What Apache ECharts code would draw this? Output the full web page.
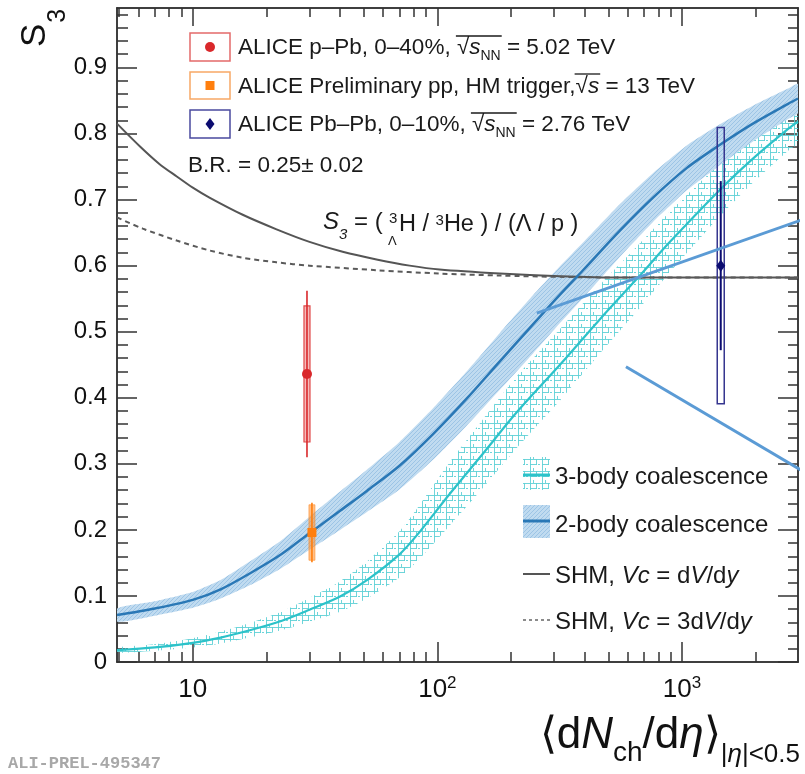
<!DOCTYPE html>
<html><head><meta charset="utf-8">
<script src="https://cdn.jsdelivr.net/npm/echarts@6/dist/echarts.min.js"></script>
<style>html,body{margin:0;padding:0;background:#fff}#c{width:805px;height:774px}</style>
</head><body><div id="c"></div>
<script>
const FONT = '"Liberation Sans", Arial, Helvetica, sans-serif';

// ---------------- data ----------------
const X_MIN = 4.9, X_MAX = 2980, Y_MIN = 0, Y_MAX = 0.99;
const xTickValues = [10, 100, 1000];
const xTickLabels = ['10', '10^2', '10^3'];
const xMinorTicks = [5,6,7,8,9,20,30,40,50,60,70,80,90,200,300,400,500,600,700,800,900,2000];
const yTickValues = [0,0.1,0.2,0.3,0.4,0.5,0.6,0.7,0.8,0.9];
const yTickLabels = ['0','0.1','0.2','0.3','0.4','0.5','0.6','0.7','0.8','0.9'];
const yMinorTicks = [0.02,0.04,0.06,0.08,0.12,0.14,0.16,0.18,0.22,0.24,0.26,0.28,0.32,0.34,0.36,0.38,0.42,0.44,0.46,0.48,0.52,0.54,0.56,0.58,0.62,0.64,0.66,0.68,0.72,0.74,0.76,0.78,0.82,0.84,0.86,0.88,0.92,0.94,0.96,0.98];

const twoBodyX  = [4.9, 7, 10, 13, 17.1, 23, 30, 40, 51.5, 70, 96, 132, 180, 246, 317, 394, 557, 761, 1047, 1430, 1950, 2715, 2980];
const twoBodyY  = [0.071,0.081,0.094,0.110,0.134,0.163,0.195,0.229,0.259,0.297,0.345,0.399,0.455,0.511,0.556,0.593,0.653,0.703,0.748,0.783,0.815,0.845,0.853];
const twoBodyLo = [0.061,0.070,0.082,0.096,0.116,0.142,0.170,0.200,0.227,0.261,0.306,0.358,0.412,0.467,0.513,0.551,0.613,0.666,0.714,0.752,0.788,0.822,0.831];
const twoBodyHi = [0.081,0.092,0.106,0.124,0.152,0.184,0.220,0.258,0.291,0.333,0.384,0.440,0.498,0.555,0.599,0.635,0.693,0.740,0.782,0.814,0.842,0.868,0.875];

const threeBodyX  = [4.9, 7, 10, 13, 17.1, 23, 30, 40, 51.5, 70, 82.5, 112, 154, 211, 317, 462, 654, 893, 1430, 1950, 2715, 2980];
const threeBodyY  = [0.018,0.022,0.029,0.037,0.048,0.062,0.079,0.099,0.124,0.163,0.192,0.254,0.316,0.378,0.450,0.519,0.580,0.636,0.715,0.762,0.807,0.818];
const threeBodyLo = [0.014,0.017,0.022,0.028,0.037,0.048,0.061,0.076,0.096,0.128,0.152,0.206,0.264,0.324,0.396,0.467,0.531,0.590,0.675,0.726,0.774,0.786];
const threeBodyHi = [0.022,0.027,0.036,0.046,0.059,0.076,0.097,0.122,0.152,0.198,0.232,0.302,0.368,0.432,0.504,0.571,0.629,0.682,0.755,0.798,0.840,0.850];

const shmX = [4.9, 6.1, 7.3, 8.6, 10, 11.7, 16, 22, 30, 41, 57, 77, 102, 180, 317, 557, 2980];
const shmY = [0.815,0.780,0.754,0.735,0.718,0.703,0.677,0.655,0.636,0.621,0.609,0.600,0.594,0.588,0.584,0.582,0.582];
const shm3X = [4.9, 6.25, 8.6, 11.7, 16, 22, 30, 57, 102, 180, 317, 557, 2980];
const shm3Y = [0.673,0.656,0.638,0.623,0.612,0.605,0.600,0.593,0.588,0.585,0.583,0.582,0.582];

const pointNames = ['ALICE p–Pb, 0–40%', 'ALICE Preliminary pp, HM trigger', 'ALICE Pb–Pb, 0–10%'];
const pointX    = [29.3, 30.7, 1440];
const pointY    = [0.436, 0.196, 0.600];
const pointStat = [0.126, 0.045, 0.128];
const pointSys  = [0.103, 0.042, 0.209];

const annotLine1X = [255, 3186];
const annotLine1Y = [0.528, 0.671];
const annotLine2X = [590, 3186];
const annotLine2Y = [0.447, 0.287];

// ---------------- patterns ----------------
function pattern2() {
  const c = document.createElement('canvas'); c.width = 4; c.height = 4;
  const g = c.getContext('2d');
  g.fillStyle = '#c0dbf0'; g.fillRect(0,0,4,4);
  g.fillStyle = '#9cc4e5';
  for (let i = 0; i < 4; i++) g.fillRect(i, 3 - i, 1, 1);
  return c;
}
function pattern3() {
  const c = document.createElement('canvas'); c.width = 12; c.height = 12;
  const g = c.getContext('2d');
  g.fillStyle = 'rgba(95,208,214,0.9)';
  g.fillRect(2,0,1,12);
  g.fillRect(0,3,12,1);
  g.fillRect(8,3,1,6);
  g.fillRect(2,8,7,1);
  g.fillRect(10,8,2,1);
  g.fillRect(5,0,1,3);
  return c;
}
const P2 = pattern2(), P3 = pattern3();

// ---------------- axes ----------------
const AX = '#333333';
function xAxisDef(pos, ticks, len, withLabels) {
  return {
    type: 'log', logBase: 10, min: X_MIN, max: X_MAX, position: pos, gridIndex: 0,
    axisLine: {show: true, onZero: false, lineStyle: {color: AX, width: 1.5}},
    axisTick: {show: true, inside: true, length: len, customValues: ticks, lineStyle: {color: AX, width: 1.5}},
    axisLabel: withLabels ? {
      show: true, customValues: xTickValues, margin: 13,
      formatter: v => {
        const idx = xTickValues.findIndex(t => Math.abs(t - v) / t < 1e-6);
        const lab = xTickLabels[idx] || '';
        const parts = lab.split('^');
        return parts.length > 1 ? '{b|' + parts[0] + '}{p|' + parts[1] + '}' : '{b|' + parts[0] + '}';
      },
      rich: {
        b: {fontSize: 26, lineHeight: 30, fontFamily: FONT, color: '#111'},
        p: {fontSize: 17, lineHeight: 20, verticalAlign: 'top', fontFamily: FONT, color: '#111'}
      }
    } : {show: false},
    splitLine: {show: false}, minorTick: {show: false}, minorSplitLine: {show: false}
  };
}
function yAxisDef(pos, ticks, len, withLabels) {
  return {
    type: 'value', min: Y_MIN, max: Y_MAX, position: pos, gridIndex: 0,
    axisLine: {show: true, onZero: false, lineStyle: {color: AX, width: 1.5}},
    axisTick: {show: true, inside: true, length: len, customValues: ticks, lineStyle: {color: AX, width: 1.5}},
    axisLabel: withLabels ? {
      show: true, customValues: yTickValues, margin: 10, fontSize: 24, fontFamily: FONT, color: '#111',
      formatter: v => {
        const idx = yTickValues.findIndex(t => Math.abs(t - v) < 1e-6);
        return idx >= 0 ? yTickLabels[idx] : '';
      }
    } : {show: false},
    splitLine: {show: false}, minorTick: {show: false}, minorSplitLine: {show: false}
  };
}

const xAxes = [
  xAxisDef('bottom', xTickValues, 20, true),
  xAxisDef('bottom', xMinorTicks, 10, false),
  xAxisDef('top', xTickValues, 18, false),
  xAxisDef('top', xMinorTicks, 9, false)
];
xAxes[0].name = '{b|⟨d}{bi|N}{c|ch}{b|/d}{bi|η}{b|⟩}{s|\|}{si|η}{s|\|<0.5}';
xAxes[0].nameLocation = 'end';
xAxes[0].nameGap = 2;
xAxes[0].nameTextStyle = {
  align: 'right', verticalAlign: 'top', padding: [52, 0, 0, 0],
  rich: {
    b:  {fontSize: 44, lineHeight: 50, verticalAlign: 'top', fontFamily: FONT, color: '#111'},
    bi: {fontSize: 44, lineHeight: 50, verticalAlign: 'top', fontStyle: 'italic', fontFamily: FONT, color: '#111'},
    c:  {fontSize: 28, verticalAlign: 'top', padding: [25, 0, 0, 0], fontFamily: FONT, color: '#111'},
    s:  {fontSize: 26, verticalAlign: 'top', padding: [28, 0, 0, 0], fontFamily: FONT, color: '#111'},
    si: {fontSize: 26, verticalAlign: 'top', padding: [28, 0, 0, 0], fontStyle: 'italic', fontFamily: FONT, color: '#111'}
  }
};

const yAxes = [
  yAxisDef('left', yTickValues, 20, true),
  yAxisDef('left', yMinorTicks, 11, false),
  yAxisDef('right', yTickValues, 20, false),
  yAxisDef('right', yMinorTicks, 10, false)
];
yAxes[0].name = '{s|S}{u|3}';
yAxes[0].nameLocation = 'end';
yAxes[0].nameRotate = 90;
yAxes[0].nameGap = -39;
yAxes[0].nameTextStyle = {
  align: 'left', verticalAlign: 'bottom', padding: [0, 0, 46, 0],
  rich: {
    s: {fontSize: 35, lineHeight: 36, verticalAlign: 'top', fontFamily: FONT, color: '#111'},
    u: {fontSize: 25, padding: [28, 0, 0, 1], fontFamily: FONT, color: '#111'}
  }
};

// ---------------- series ----------------
const series = [];
function band(key, xs, lo, hi, fill, z) {
  series.push({
    type: 'custom', name: key, silent: true, z: z, clip: true, encode: {x: 0, y: 1},
    data: xs.map((x, i) => [x, lo[i], hi[i]]),
    renderItem: (params, api) => {
      if (params.dataIndex !== 0) return null;
      const upper = xs.map((x, i) => api.coord([x, hi[i]]));
      const lower = xs.map((x, i) => api.coord([x, lo[i]])).reverse();
      return {type: 'polygon', shape: {points: upper.concat(lower), smooth: 0.2}, style: {fill: fill}};
    }
  });
}
function curve(name, xs, ys, color, width, type, z) {
  series.push({type: 'line', name: name, data: xs.map((x, i) => [x, ys[i]]), symbol: 'none', smooth: 0.3,
    lineStyle: {color: color, width: width, type: type}, silent: true, z: z});
}
band('3-body band', threeBodyX, threeBodyLo, threeBodyHi, {image: P3, repeat: 'repeat'}, 2);
band('2-body band', twoBodyX, twoBodyLo, twoBodyHi, {image: P2, repeat: 'repeat'}, 2);
curve('SHM, Vc = dV/dy', shmX, shmY, '#555555', 2, 'solid', 3);
curve('SHM, Vc = 3dV/dy', shm3X, shm3Y, '#5a5a5a', 2, [5, 4], 3);
curve('3-body coalescence', threeBodyX, threeBodyY, '#2cc2c9', 2.2, 'solid', 4);
curve('2-body coalescence', twoBodyX, twoBodyY, '#2a78b6', 2.5, 'solid', 4);

const pointStyles = [
  {color: '#d9282b', boxW: 6, boxStyle: {fill: 'rgba(225,60,60,0.35)', stroke: '#e04848', lineWidth: 1.2}, statW: 1.6, marker: 'circle'},
  {color: '#ff7f0e', boxW: 6, boxStyle: {fill: 'rgba(255,140,40,0.55)', stroke: 'rgba(255,140,40,0.6)', lineWidth: 1}, statW: 1.6, marker: 'square'},
  {color: '#0b0b70', boxW: 7, boxStyle: {fill: 'rgba(255,255,255,0)', stroke: '#35358f', lineWidth: 1.5}, statW: 2, marker: 'diamond'}
];
pointNames.forEach((nm, i) => {
  const st = pointStyles[i];
  series.push({
    type: 'custom', name: nm, silent: true, z: 10, clip: false,
    encode: {x: 0, y: 1},
    data: [[pointX[i], pointY[i], pointY[i] - pointStat[i], pointY[i] + pointStat[i], pointY[i] - pointSys[i], pointY[i] + pointSys[i]]],
    renderItem: (params, api) => {
      const x = api.value(0);
      const c = api.coord([x, api.value(1)]);
      const s1 = api.coord([x, api.value(2)]), s2 = api.coord([x, api.value(3)]);
      const b1 = api.coord([x, api.value(4)]), b2 = api.coord([x, api.value(5)]);
      const w = st.boxW;
      let marker;
      if (st.marker === 'circle') marker = {type: 'circle', shape: {cx: c[0], cy: c[1], r: 5}, style: {fill: st.color}};
      else if (st.marker === 'square') marker = {type: 'rect', shape: {x: c[0] - 4.5, y: c[1] - 4.5, width: 9, height: 9}, style: {fill: st.color}};
      else marker = {type: 'polygon', shape: {points: [[c[0], c[1] - 6], [c[0] + 4.5, c[1]], [c[0], c[1] + 6], [c[0] - 4.5, c[1]]]}, style: {fill: st.color}};
      return {type: 'group', children: [
        {type: 'rect', shape: {x: c[0] - w / 2, y: b2[1], width: w, height: b1[1] - b2[1]}, style: st.boxStyle},
        {type: 'line', shape: {x1: c[0], y1: s2[1], x2: c[0], y2: s1[1]}, style: {stroke: st.color, lineWidth: st.statW}},
        marker
      ]};
    }
  });
});

[[annotLine1X, annotLine1Y], [annotLine2X, annotLine2Y]].forEach((a, k) => {
  series.push({type: 'line', name: 'annotation' + k, data: a[0].map((x, i) => [x, a[1][i]]), symbol: 'none',
    clip: false, lineStyle: {color: '#5b9bd5', width: 3}, silent: true, z: 12});
});

// ---------------- text / legends ----------------
const T = '#1a1a1a';
const L1 = 22.5;
const r1 = {
  n:   {fontSize: L1, lineHeight: 26, verticalAlign: 'top', fontFamily: FONT, fill: T},
  i:   {fontSize: L1, lineHeight: 26, verticalAlign: 'top', fontStyle: 'italic', fontFamily: FONT, fill: T},
  sub: {fontSize: 14, verticalAlign: 'top', padding: [13, 0, 0, 0], fontFamily: FONT, fill: T}
};
const r2 = {
  n: {fontSize: 24, lineHeight: 28, verticalAlign: 'top', fontFamily: FONT, fill: T},
  i: {fontSize: 24, lineHeight: 28, verticalAlign: 'top', fontStyle: 'italic', fontFamily: FONT, fill: T}
};
function txt(x, y, text, rich) {
  return {type: 'text', x: x, y: y, z: 50, silent: true, style: {text: text, rich: rich, align: 'left', verticalAlign: 'middle'}};
}
// measure text widths to place the radical's overbar
const mctx = document.createElement('canvas').getContext('2d');
function tw(s, size, italic) { mctx.font = (italic ? 'italic ' : '') + size + 'px ' + FONT; return mctx.measureText(s).width; }
function overbar(x0, prefix, hasSub, yTop) {
  const xs = x0 + tw(prefix, L1) - 1;
  const xe = x0 + tw(prefix + '√', L1) + tw('s', L1, true) + (hasSub ? tw('NN', 14) : 0) + 1;
  return {type: 'line', z: 50, shape: {x1: xs, y1: yTop, x2: xe, y2: yTop}, style: {stroke: T, lineWidth: 1.3}};
}
const leg1Y = [50, 88, 127];
const graphics = [
  // legend 1 boxes
  {type: 'rect', shape: {x: 190, y: 33, width: 40, height: 28}, style: {fill: '#fff', stroke: '#e46a6a', lineWidth: 1.5}},
  {type: 'circle', shape: {cx: 210, cy: 47, r: 5}, style: {fill: '#d9282b'}},
  {type: 'rect', shape: {x: 190, y: 72, width: 40, height: 27}, style: {fill: '#fff', stroke: '#f7a865', lineWidth: 1.5}},
  {type: 'rect', shape: {x: 205.5, y: 81, width: 9, height: 9}, style: {fill: '#ff7f0e'}},
  {type: 'rect', shape: {x: 190, y: 110, width: 40, height: 28}, style: {fill: '#fff', stroke: '#4a4a9e', lineWidth: 1.5}},
  {type: 'polygon', shape: {points: [[210, 118], [214.5, 124], [210, 130], [205.5, 124]]}, style: {fill: '#0b0b70'}},
  txt(238, leg1Y[0], '{n|ALICE p–Pb, 0–40%, √}{i|s}{sub|NN}{n| = 5.02 TeV}', r1),
  txt(238, leg1Y[1], '{n|ALICE Preliminary pp, HM trigger,√}{i|s}{n| = 13 TeV}', r1),
  txt(238, leg1Y[2], '{n|ALICE Pb–Pb, 0–10%, √}{i|s}{sub|NN}{n| = 2.76 TeV}', r1),
  overbar(238, 'ALICE p–Pb, 0–40%, ', true, leg1Y[0] - 14),
  overbar(238, 'ALICE Preliminary pp, HM trigger,', false, leg1Y[1] - 14),
  overbar(238, 'ALICE Pb–Pb, 0–10%, ', true, leg1Y[2] - 14),
  txt(188, 167, '{n|B.R. = 0.25± 0.02}', r1),
  // formula
  txt(323, 226, '{i|S}{sub|3}{n| = (}', {
    n:   {fontSize: 24, lineHeight: 28, verticalAlign: 'top', fontFamily: FONT, fill: T},
    i:   {fontSize: 24, lineHeight: 28, verticalAlign: 'top', fontStyle: 'italic', fontFamily: FONT, fill: T},
    sub: {fontSize: 15, verticalAlign: 'top', padding: [17, 0, 0, 0], fontStyle: 'italic', fontFamily: FONT, fill: T}
  }),
  {type: 'text', x: 389, y: 219, z: 50, silent: true, style: {text: '3', fontSize: 15, fontFamily: FONT, fill: T, verticalAlign: 'middle'}},
  {type: 'text', x: 388, y: 241, z: 50, silent: true, style: {text: 'Λ', fontSize: 13, fontFamily: FONT, fill: T, verticalAlign: 'middle'}},
  txt(399, 227, '{n|H / }{sup|3}{n|He ) / (Λ / p )}', {
    n:   {fontSize: 23.5, lineHeight: 28, verticalAlign: 'top', fontFamily: FONT, fill: T},
    sup: {fontSize: 15, verticalAlign: 'top', fontFamily: FONT, fill: T}
  }),
  // legend 2
  {type: 'rect', shape: {x: 523, y: 457, width: 27, height: 33}, style: {fill: {image: P3, repeat: 'repeat'}}},
  {type: 'line', shape: {x1: 523, y1: 475, x2: 550, y2: 475}, style: {stroke: '#2cc2c9', lineWidth: 3}},
  {type: 'rect', shape: {x: 523, y: 505, width: 27, height: 33}, style: {fill: {image: P2, repeat: 'repeat'}}},
  {type: 'line', shape: {x1: 523, y1: 521, x2: 550, y2: 521}, style: {stroke: '#2a78b6', lineWidth: 3}},
  {type: 'line', shape: {x1: 523, y1: 574, x2: 550, y2: 574}, style: {stroke: '#555', lineWidth: 2}},
  {type: 'line', shape: {x1: 523, y1: 620, x2: 550, y2: 620}, style: {stroke: '#666', lineWidth: 1.5, lineDash: [3, 3]}},
  txt(555, 479, '{n|3-body coalescence}', r2),
  txt(555, 527, '{n|2-body coalescence}', r2),
  txt(555, 578, '{n|SHM, }{i|Vc}{n| = d}{i|V}{n|/d}{i|y}', r2),
  txt(555, 624, '{n|SHM, }{i|Vc}{n| = 3d}{i|V}{n|/d}{i|y}', r2),
  // label
  {type: 'text', x: 8, y: 764, z: 50, silent: true, style: {text: 'ALI-PREL-495347', fontSize: 17, fontWeight: 'bold', fontFamily: '"Liberation Mono", "DejaVu Sans Mono", monospace', fill: '#a8a8a8', verticalAlign: 'middle'}}
];
graphics.forEach(g => { if (g.z == null) g.z = 50; });

const chart = echarts.init(document.getElementById('c'), null, {renderer: 'canvas', width: 805, height: 774});
chart.setOption({
  animation: false,
  backgroundColor: '#fff',
  textStyle: {fontFamily: FONT},
  grid: {left: 117, right: 7, top: 8, bottom: 112, containLabel: false, outerBoundsMode: 'none'},
  xAxis: xAxes,
  yAxis: yAxes,
  series: series,
  graphic: {elements: graphics}
});
</script></body></html>
